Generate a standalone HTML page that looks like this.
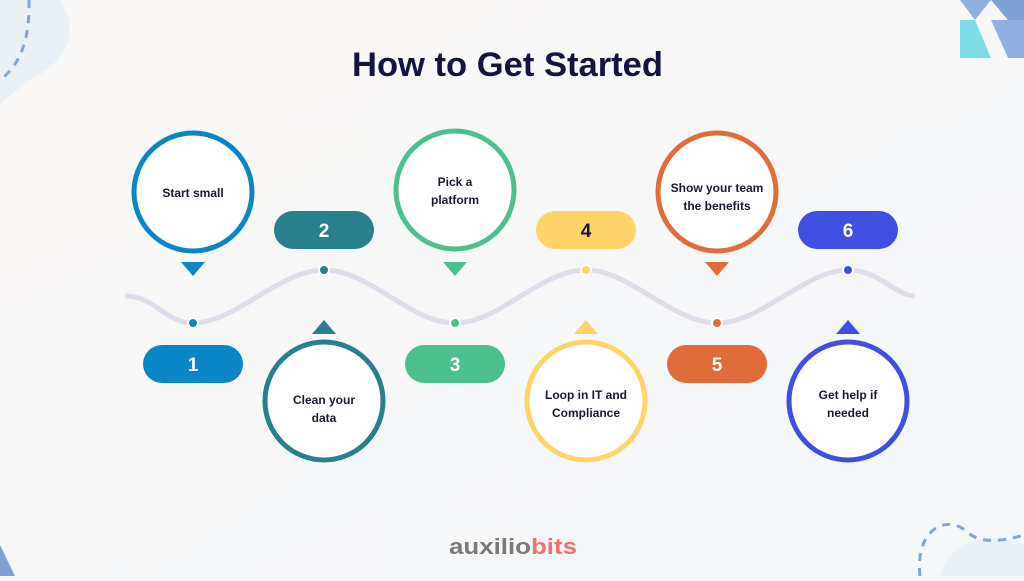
<!DOCTYPE html>
<html><head><style>
body{margin:0;width:1024px;height:576px;overflow:hidden;background:#f8f7f7;font-family:"Liberation Sans",sans-serif}
</style></head><body>
<svg width="1024" height="576" viewBox="0 0 1024 576" xmlns="http://www.w3.org/2000/svg">
<defs><linearGradient id="bg" x1="0" y1="0" x2="1" y2="1"><stop offset="0" stop-color="#fbf8f7"/><stop offset="1" stop-color="#f3f6f8"/></linearGradient></defs>
<rect width="1024" height="576" fill="url(#bg)"/>
<path d="M0 0 H60 C80 30 70 60 30 80 C10 95 5 100 0 105 Z" fill="#eaf1f6"/>
<path d="M29 0 C30 40 20 65 0 80" fill="none" stroke="#7fa6d6" stroke-width="3" stroke-dasharray="8 7"/>
<polygon points="960,0 991,0 975,20" fill="#8fb0de"/><polygon points="991,0 1024,0 1024,20 1008,20" fill="#7fa0d4"/>
<polygon points="960,20 975,20 991,58 960,58" fill="#7fdbe8"/><polygon points="991,20 1024,20 1024,58 1008,58" fill="#8fb0de"/>
<polygon points="0,545 15,576 0,576" fill="#7fa0d4"/>
<path d="M940 576 C950 540 990 530 1024 545 V576 Z" fill="#eaf1f6"/>
<path d="M920 576 C915 530 945 515 965 530 C975 540 990 545 1024 535" fill="none" stroke="#7fa6d6" stroke-width="3" stroke-dasharray="8 7"/>
<text x="352" y="76" textLength="311" lengthAdjust="spacingAndGlyphs" font-size="34" font-weight="bold" fill="#131540">How to Get Started</text>
<path d="M125 296 C155 296 165 323 193 323 C235 323 280 270 324 270 C370 270 410 323 455 323 C500 323 540 270 586 270 C630 270 672 323 717 323 C762 323 805 270 848 270 C880 270 895 296 915 296" fill="none" stroke="#dedce8" stroke-width="5"/>
<g font-weight="bold" font-size="12" fill="#1a1a2e" text-anchor="middle">
<circle cx="193" cy="192" r="59" fill="#fff" stroke="#0a86c7" stroke-width="5"/><text x="193" y="197">Start small</text>
<circle cx="455" cy="190" r="59" fill="#fff" stroke="#4dbf8f" stroke-width="5"/><text x="455" y="186">Pick a</text><text x="455" y="204">platform</text>
<circle cx="717" cy="192" r="59" fill="#fff" stroke="#e06c3c" stroke-width="5"/><text x="717" y="192">Show your team</text><text x="717" y="210">the benefits</text>
<circle cx="324" cy="401" r="59" fill="#fff" stroke="#2a7f8f" stroke-width="5"/><text x="324" y="404">Clean your</text><text x="324" y="422">data</text>
<circle cx="586" cy="401" r="59" fill="#fff" stroke="#fcd46a" stroke-width="5"/><text x="586" y="399">Loop in IT and</text><text x="586" y="417">Compliance</text>
<circle cx="848" cy="401" r="59" fill="#fff" stroke="#3f4fe0" stroke-width="5"/><text x="848" y="399">Get help if</text><text x="848" y="417">needed</text>
</g>
<polygon points="181,262 205,262 193,276" fill="#0a86c7"/>
<polygon points="443,262 467,262 455,276" fill="#4dbf8f"/>
<polygon points="705,262 729,262 717,276" fill="#e06c3c"/>
<polygon points="312,334 336,334 324,320" fill="#2a7f8f"/>
<polygon points="574,334 598,334 586,320" fill="#fcd46a"/>
<polygon points="836,334 860,334 848,320" fill="#3f4fe0"/>
<g stroke="#fff" stroke-width="2">
<circle cx="193" cy="323" r="5" fill="#0a86c7"/><circle cx="455" cy="323" r="5" fill="#4dbf8f"/><circle cx="717" cy="323" r="5" fill="#e06c3c"/>
<circle cx="324" cy="270" r="5" fill="#2a7f8f"/><circle cx="586" cy="270" r="5" fill="#fcd46a"/><circle cx="848" cy="270" r="5" fill="#3f4fe0"/>
</g>
<g font-weight="bold" font-size="19" fill="#fff" text-anchor="middle">
<rect x="143" y="345" width="100" height="38" rx="19" fill="#0a86c7"/><text x="193" y="371">1</text>
<rect x="274" y="211" width="100" height="38" rx="19" fill="#2a7f8f"/><text x="324" y="237">2</text>
<rect x="405" y="345" width="100" height="38" rx="19" fill="#4dbf8f"/><text x="455" y="371">3</text>
<rect x="536" y="211" width="100" height="38" rx="19" fill="#fcd46a"/><text x="586" y="237" fill="#1a1a2e">4</text>
<rect x="667" y="345" width="100" height="38" rx="19" fill="#e06c3c"/><text x="717" y="371">5</text>
<rect x="798" y="211" width="100" height="38" rx="19" fill="#3f4fe0"/><text x="848" y="237">6</text>
</g>
<text x="449" y="554" textLength="128" lengthAdjust="spacingAndGlyphs" font-size="22" font-weight="bold" fill="#7a7a7a">auxilio<tspan fill="#f07070">bits</tspan></text>
</svg>
</body></html>
